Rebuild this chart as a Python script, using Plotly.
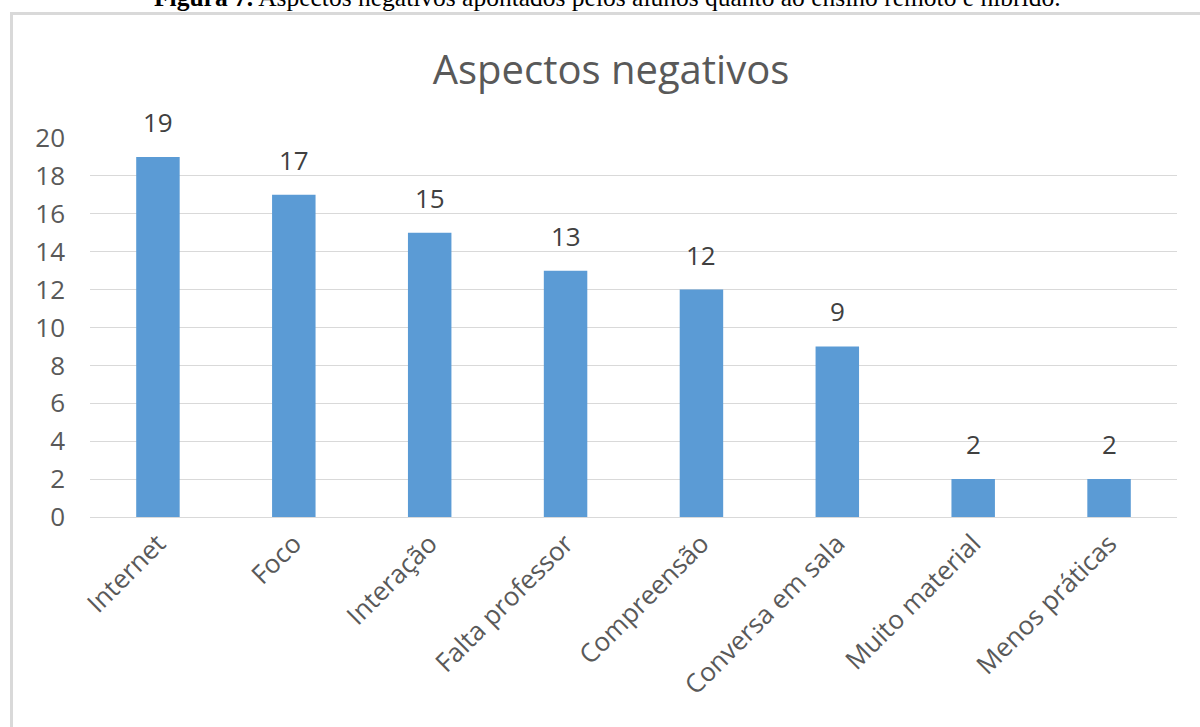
import plotly.graph_objects as go

categories = ["Internet", "Foco", "Interação", "Falta professor", "Compreensão",
              "Conversa em sala", "Muito material", "Menos práticas"]
values = [19, 17, 15, 13, 12, 9, 2, 2]
y_ticks = [0, 2, 4, 6, 8, 10, 12, 14, 16, 18, 20]

W, H = 1200, 727
ml, mr, mt, mb = 90, 23, 138, 210
pw = W - ml - mr
ph = H - mt - mb

def px_x(p):
    return (p - ml) / pw

def px_y(p):
    return (H - mb - p) / ph

fig = go.Figure()
fig.add_trace(go.Bar(
    x=categories, y=values,
    marker=dict(color="#5B9BD5", line=dict(width=0)),
    hoverinfo="x+y",
))

label_annotations = [
    dict(x=c, y=v, xref="x", yref="y", text=str(v), showarrow=False,
         xanchor="center", yanchor="bottom", yshift=15,
         font=dict(family="Open Sans", size=26, color="#404040"))
    for c, v in zip(categories, values)
]

caption = dict(text="<b>Figura 7.</b> Aspectos negativos apontados pelos alunos quanto ao ensino remoto e híbrido.",
               xref="paper", yref="paper", x=px_x(607), y=px_y(14),
               xanchor="center", yanchor="bottom", showarrow=False,
               font=dict(family="Liberation Serif", size=25.5, color="#000000"))

fig.update_layout(
    width=W, height=H,
    margin=dict(l=ml, r=mr, t=mt, b=mb),
    paper_bgcolor="white", plot_bgcolor="white",
    showlegend=False,
    bargap=0.68,
    font=dict(family="Open Sans", color="#595959"),
    title=dict(text="Aspectos negativos", x=px_x(611), xref="paper", xanchor="center",
               y=1 - 70 / H, yanchor="middle",
               font=dict(family="Open Sans", size=40, color="#595959")),
    xaxis=dict(tickangle=-45, tickfont=dict(size=26, color="#595959"),
               showgrid=False, showline=True, linecolor="#d9d9d9", linewidth=1,
               ticks=""),
    yaxis=dict(range=[0, 20], tickvals=y_ticks, tickfont=dict(size=26, color="#595959"),
               showgrid=True, gridcolor="#d9d9d9", gridwidth=1, zeroline=False,
               showline=False, ticks="", ticklabelstandoff=24),
    shapes=[dict(type="rect", xref="paper", yref="paper",
                 x0=px_x(11.5), x1=px_x(1215), y0=px_y(13.5), y1=px_y(740),
                 line=dict(color="#d9d9d9", width=3), fillcolor="rgba(0,0,0,0)",
                 layer="below")],
    annotations=label_annotations + [caption],
)

fig.write_html("out.html", config={"displayModeBar": False},
               post_script="document.body.style.margin='0';document.body.style.overflow='hidden';")
